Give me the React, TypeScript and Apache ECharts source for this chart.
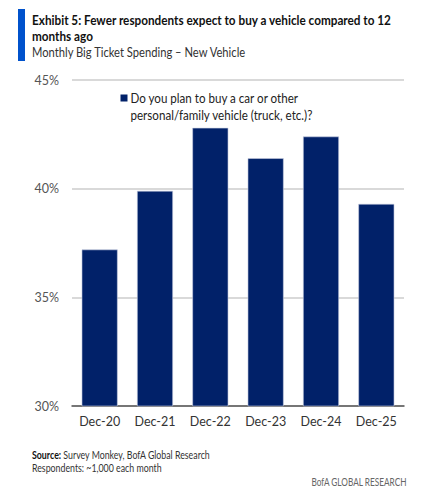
import React, { useEffect, useRef } from "react";
import * as echarts from "echarts";

const categories = ["Dec-20", "Dec-21", "Dec-22", "Dec-23", "Dec-24", "Dec-25"];
const planToBuy = [37.2, 39.9, 42.8, 41.4, 42.4, 39.3];
const seriesName = "Do you plan to buy a car or other personal/family vehicle (truck, etc.)?";
const legendLines = ["Do you plan to buy a car or other", "personal/family vehicle (truck, etc.)?"];
const yTicks = { min: 30, max: 45, interval: 5 };

const titleLines = ["Exhibit 5: Fewer respondents expect to buy a vehicle compared to 12", "months ago"];
const subtitle = "Monthly Big Ticket Spending – New Vehicle";
const sourceText = " Survey Monkey, BofA Global Research";
const noteText = "Respondents: ~1,000 each month";
const brandText = "BofA GLOBAL RESEARCH";

const FONT = "Lato, 'Noto Sans', sans-serif";
const NAVY = "#012169";

export default function App() {
  const ref = useRef<HTMLDivElement>(null);

  useEffect(() => {
    if (!ref.current) return;
    const chart = echarts.init(ref.current, undefined, { renderer: "svg" });

    // horizontally condensed text, anchored at (x, y)
    const txt = (
      x: number,
      y: number,
      text: string,
      size: number,
      color: string,
      scale: number,
      opts: { bold?: boolean; align?: string; rich?: any } = {}
    ) => ({
      type: "text",
      x,
      y,
      scaleX: scale,
      style: {
        text,
        fill: color,
        fontFamily: FONT,
        fontSize: size,
        fontWeight: opts.bold ? "bold" : "normal",
        align: opts.align ?? "left",
        verticalAlign: "middle",
        rich: opts.rich,
      },
    });

    chart.setOption({
      animation: false,
      backgroundColor: "#ffffff",
      textStyle: { fontFamily: FONT },
      graphic: [
        { type: "rect", x: 18, y: 9, shape: { width: 7, height: 52 }, style: { fill: "#0052cc" } },
        txt(32, 20, titleLines[0], 14, "#111", 0.84, { bold: true }),
        txt(32, 36, titleLines[1], 14, "#111", 0.84, { bold: true }),
        txt(32, 52, subtitle, 13.5, "#333", 0.83),
        // legend
        { type: "rect", x: 120.5, y: 94.5, shape: { width: 7, height: 7 }, style: { fill: NAVY } },
        txt(130.5, 98, legendLines[0], 13.5, "#222", 0.86),
        txt(130.5, 115, legendLines[1], 13.5, "#222", 0.86),
        // footer
        txt(32, 455, `{b|Source:}${sourceText}`, 11, "#333", 0.8, {
          rich: { b: { fontFamily: FONT, fontSize: 11, fontWeight: "bold", fill: "#111" } },
        }),
        txt(32, 468, noteText, 11, "#333", 0.8),
        txt(406.5, 481.5, brandText, 11, "#666", 0.75, { align: "right" }),
      ],
      grid: { left: 72, right: 27, top: 80, bottom: 94, containLabel: false },
      xAxis: {
        type: "category",
        data: categories,
        axisLine: { lineStyle: { color: "#555", width: 1.5 } },
        axisTick: { show: false },
        axisLabel: { fontFamily: FONT, fontSize: 12.5, color: "#333", margin: 9, interval: 0 },
      },
      yAxis: {
        type: "value",
        min: yTicks.min,
        max: yTicks.max,
        interval: yTicks.interval,
        axisLine: { show: false },
        axisTick: { show: false },
        axisLabel: {
          fontFamily: FONT,
          fontSize: 12.5,
          color: "#555",
          margin: 13,
          formatter: (v: number) => `${v}%`,
        },
        splitLine: { lineStyle: { color: "#cccccc", width: 1.5 } },
      },
      series: [
        {
          name: seriesName,
          type: "bar",
          data: planToBuy,
          barCategoryGap: "35%",
          itemStyle: { color: NAVY, borderColor: "#c9cfe0", borderWidth: 0.6 },
        },
      ],
    });
    return () => chart.dispose();
  }, []);

  return (
    <div
      ref={ref}
      style={{ position: "fixed", left: 0, top: 0, width: 431, height: 500 }}
    />
  );
}
